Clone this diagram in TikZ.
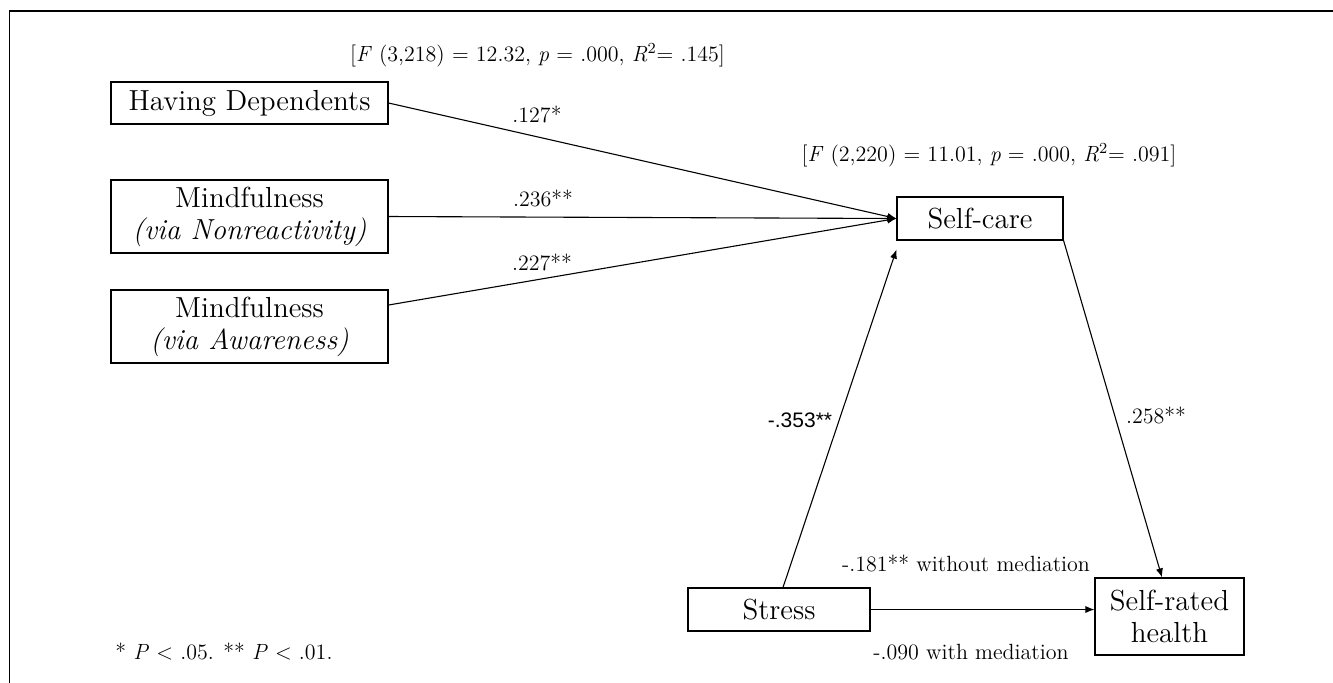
\documentclass[tikz,border=0pt]{standalone}
\usepackage{fontspec}
\newfontfamily\arialnum{Liberation Sans}
\usetikzlibrary{arrows.meta,calc}
\begin{document}
\begin{tikzpicture}[x=0.5pt,y=-0.5pt,
  boxnode/.style={draw, line width=0.6pt, inner sep=0pt, align=center,
    font=\fontsize{14.5}{16}\selectfont},
  lab/.style={inner sep=0pt, font=\fontsize{11}{13}\selectfont},
  sanslab/.style={inner sep=0pt, font=\arialnum\fontsize{10.5}{12}\selectfont},
  arr/.style={line width=0.55pt, -{Latex[length=4.5pt,width=3.6pt]}},
  frameline/.style={line width=0.8pt}]
\useasboundingbox (0,0) rectangle (1333,682);
\draw[frameline] (9.5,690) -- (9.5,11) -- (1340,11);
% boxes
\node[boxnode, minimum width=138.5pt, minimum height=21pt] (hd) at (249.5,103) {Having Dependents};
\node[boxnode, minimum width=138.5pt, minimum height=36.5pt] (mn) at (249.5,216.5) {Mindfulness\\\textit{(via Nonreactivity)}};
\node[boxnode, minimum width=138.5pt, minimum height=36.5pt] (ma) at (249.5,326.5) {Mindfulness\\\textit{(via Awareness)}};
\node[boxnode, minimum width=83pt, minimum height=21.5pt] (sc) at (980,218.5) {Self-care};
\node[boxnode, minimum width=91pt, minimum height=21.5pt] (st) at (779,609.5) {Stress};
\node[boxnode, minimum width=74.5pt, minimum height=38.5pt] (srh) at (1169.5,616.5) {Self-rated\\health};
% connectors
\draw[arr] (hd.east) -- (sc.west);
\draw[arr] (mn.east) -- (sc.west);
\draw[arr] ([yshift=10.75pt]ma.east) -- (sc.west);
\draw[arr] ([xshift=2pt]st.north) -- ([yshift=-4.5pt]sc.south west);
\draw[arr] (sc.south east) -- ([xshift=-3.75pt]srh.north);
\draw[arr] (st.east) -- (st.east -| srh.west);
% labels
\node[lab] (f1) at (537.5,55) {[\textit{F} (3,218) = 12.32, \textit{p} = .000, \textit{R}\textsuperscript{2}= .145]};
\node[lab] (f2) at (989,155) {[\textit{F} (2,220) = 11.01, \textit{p} = .000, \textit{R}\textsuperscript{2}= .091]};
\node[lab] (l127) at (537,114) {.127*};
\node[lab] (l236) at (543,198) {.236**};
\node[lab] (l227) at (542,262) {.227**};
\node[sanslab] (l353) at (800,420) {-.353**};
\node[lab] (l258) at (1156,415) {.258**};
\node[lab] (l181) at (966,563) {-.181** without mediation};
\node[lab] (l090) at (971,652) {-.090 with mediation};
\node[lab] (note) at (224,652) {* \textit{P} < .05. ** \textit{P} < .01.};
\end{tikzpicture}
\end{document}
